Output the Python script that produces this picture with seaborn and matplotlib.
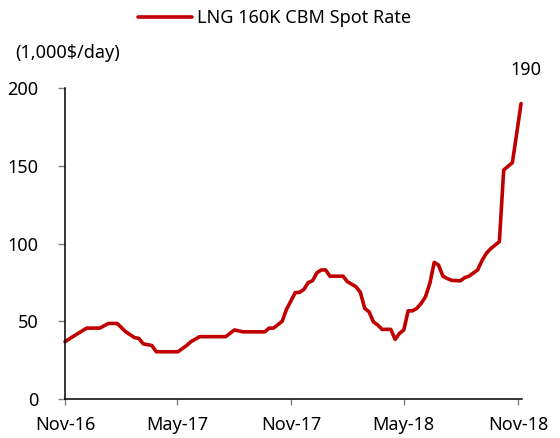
import pandas as pd
import matplotlib
matplotlib.use("Agg")
import matplotlib.pyplot as plt
import matplotlib.dates as mdates
import seaborn as sns

# weekly spot rate (1,000 $/day)
week_dates = [
    "2016-11-01", "2016-11-22", "2016-12-06", "2016-12-27", "2017-01-10",
    "2017-01-24", "2017-02-07", "2017-02-21", "2017-02-28", "2017-03-07",
    "2017-03-21", "2017-03-28", "2017-05-02", "2017-05-16", "2017-05-23",
    "2017-06-06", "2017-07-18", "2017-08-01", "2017-08-15", "2017-09-19",
    "2017-09-26", "2017-10-03", "2017-10-17", "2017-10-24", "2017-11-07",
    "2017-11-14", "2017-11-21", "2017-11-28", "2017-12-05", "2017-12-12",
    "2017-12-19", "2017-12-26", "2018-01-02", "2018-01-23", "2018-01-30",
    "2018-02-13", "2018-02-20", "2018-02-27", "2018-03-06", "2018-03-13",
    "2018-03-20", "2018-03-27", "2018-04-10", "2018-04-17", "2018-04-24",
    "2018-05-01", "2018-05-08", "2018-05-15", "2018-05-22", "2018-05-29",
    "2018-06-05", "2018-06-12", "2018-06-19", "2018-06-26", "2018-07-03",
    "2018-07-10", "2018-07-17", "2018-07-31", "2018-08-07", "2018-08-14",
    "2018-08-28", "2018-09-04", "2018-09-11", "2018-09-18", "2018-10-02",
    "2018-10-09", "2018-10-23", "2018-11-06",
]
spot_rate = [
    36.9, 42.2, 45.6, 45.6, 48.6,
    48.6, 43.2, 39.5, 39.0, 35.5,
    34.4, 30.4, 30.4, 34.4, 36.9,
    40.1, 40.1, 44.4, 43.2, 43.2,
    45.6, 45.6, 50.0, 57.7, 68.4,
    68.6, 70.5, 74.9, 76.1, 81.2,
    83.0, 83.0, 79.0, 79.0, 75.5,
    72.2, 68.6, 58.3, 56.1, 49.6,
    47.6, 44.8, 44.8, 38.4, 42.2,
    44.4, 56.7, 56.7, 58.3, 61.5,
    65.8, 74.4, 87.9, 86.1, 79.0,
    77.5, 76.3, 76.0, 78.0, 79.0,
    83.0, 89.0, 93.7, 96.7, 101.2,
    147.3, 152.0, 190.0,
]
tick_dates = ["2016-11-01", "2017-05-01", "2017-11-01", "2018-05-01", "2018-11-01"]
y_ticks = [0, 50, 100, 150, 200]
series_name = "LNG 160K CBM Spot Rate"
unit_label = "(1,000$/day)"

df = pd.DataFrame({"date": pd.to_datetime(week_dates), "rate": spot_rate})

sns.set_style("white")
plt.rcParams["font.family"] = ["Noto Sans", "DejaVu Sans"]
plt.rcParams["font.size"] = 13
plt.rcParams["text.color"] = "black"
plt.rcParams["xtick.color"] = "black"
plt.rcParams["ytick.color"] = "black"

fig = plt.figure(figsize=(5.6, 4.38), dpi=100)
ax = fig.add_axes([0.1161, 0.0890, 0.8155, 0.7100])

sns.lineplot(data=df, x="date", y="rate", color="#C00000", linewidth=2.6,
             ax=ax, label=series_name)
for ln in ax.lines:
    ln.set_clip_on(False)

ax.set_xlim(pd.Timestamp("2016-11-01"), pd.Timestamp("2018-11-07"))
ax.set_ylim(0, 200)
ax.set_xticks(pd.to_datetime(tick_dates))
ax.xaxis.set_major_formatter(mdates.DateFormatter("%b-%y"))
ax.set_yticks(y_ticks)
ax.set_xlabel("")
ax.set_ylabel("")

for side in ["top", "right"]:
    ax.spines[side].set_visible(False)
for side in ["left", "bottom"]:
    ax.spines[side].set_color("black")
    ax.spines[side].set_linewidth(1.1)

ax.tick_params(axis="y", left=True, length=5, width=1, color="#808080",
               labelcolor="black", pad=14, labelsize=13)
ax.tick_params(axis="x", bottom=True, length=4.3, width=1, color="#808080",
               labelcolor="black", pad=8, labelsize=13)

ax.legend(loc="center left", bbox_to_anchor=(138 / 560, 1 - 18 / 438),
          bbox_transform=fig.transFigure, frameon=False, handlelength=3.0,
          handletextpad=0.28, borderpad=0, borderaxespad=0, fontsize=13,
          labelcolor="black")

fig.text(15 / 560, 1 - 53 / 438, unit_label, ha="left", va="center",
         fontsize=13, color="black")

ax.annotate(f"{spot_rate[-1]:.0f}", xy=(df["date"].iloc[-1], spot_rate[-1]),
            xytext=(3.6, 24), textcoords="offset points",
            ha="center", va="center", fontsize=13, color="black")

fig.savefig("out.png", dpi=100)
